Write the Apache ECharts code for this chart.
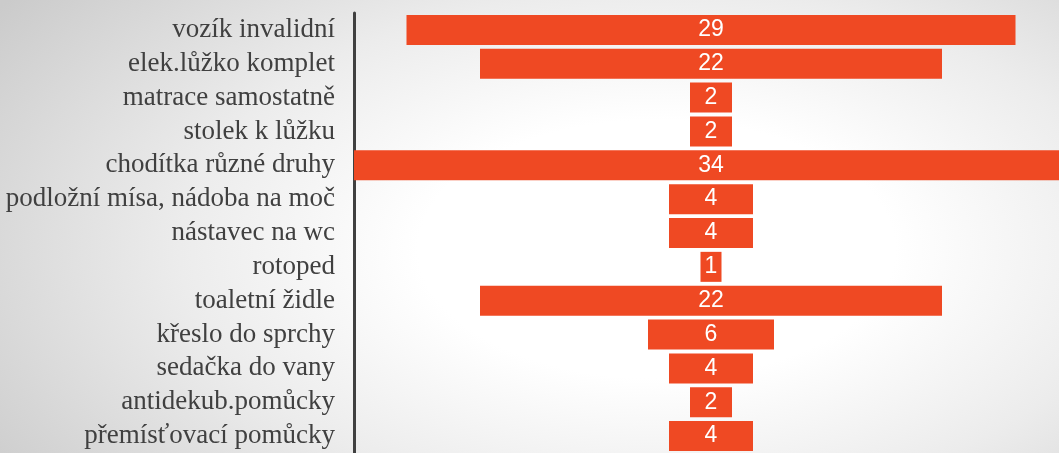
<!DOCTYPE html>
<html>
<head>
<meta charset="utf-8">
<script src="https://cdn.jsdelivr.net/npm/echarts@6/dist/echarts.min.js"></script>
<style>
  html, body { margin: 0; padding: 0; }
  body {
    width: 1059px; height: 453px; overflow: hidden;
    background: radial-gradient(ellipse 75% 95% at 62% 55%, #ffffff 30%, #ececec 60%, #cbcbcb 100%);
  }
  /* wider than the window so the widest bar can run off the right edge */
  #chart { width: 1090px; height: 453px; }
</style>
</head>
<body>
<div id="chart"></div>
<script>
// rows from top to bottom
const categories = [
  'vozík invalidní',
  'elek.lůžko komplet',
  'matrace samostatně',
  'stolek k lůžku',
  'chodítka různé druhy',
  'podložní mísa, nádoba na moč',
  'nástavec na wc',
  'rotoped',
  'toaletní židle',
  'křeslo do sprchy',
  'sedačka do vany',
  'antidekub.pomůcky',
  'přemísťovací pomůcky'
]
const counts = [29, 22, 2, 2, 34, 4, 4, 1, 22, 6, 4, 2, 4]

const maxCount = Math.max(...counts)
// invisible padding so every bar is centred like a funnel
const padding = counts.map(v => (maxCount - v) / 2)

const chart = echarts.init(document.getElementById('chart'))
chart.setOption({
  animation: false,
  grid: {left: 354, top: 13, width: 714, height: 442},
  xAxis: {
    type: 'value',
    min: 0,
    max: maxCount,
    show: false
  },
  yAxis: {
    type: 'category',
    inverse: true,
    data: categories,
    axisLine: {show: true, lineStyle: {color: '#404040', width: 3}},
    axisTick: {show: false},
    axisLabel: {
      interval: 0,
      margin: 19,
      fontFamily: '"Liberation Serif", "DejaVu Serif", serif',
      fontSize: 27,
      color: '#404040'
    }
  },
  series: [
    {
      type: 'bar',
      stack: 'funnel',
      data: padding,
      itemStyle: {color: 'transparent'},
      silent: true
    },
    {
      type: 'bar',
      stack: 'funnel',
      data: counts,
      barWidth: 30,
      itemStyle: {color: '#EF4923'},
      label: {
        show: true,
        position: 'inside',
        color: '#ffffff',
        fontFamily: '"Liberation Sans", Arial, sans-serif',
        fontSize: 23
      }
    }
  ]
})
</script>
</body>
</html>
